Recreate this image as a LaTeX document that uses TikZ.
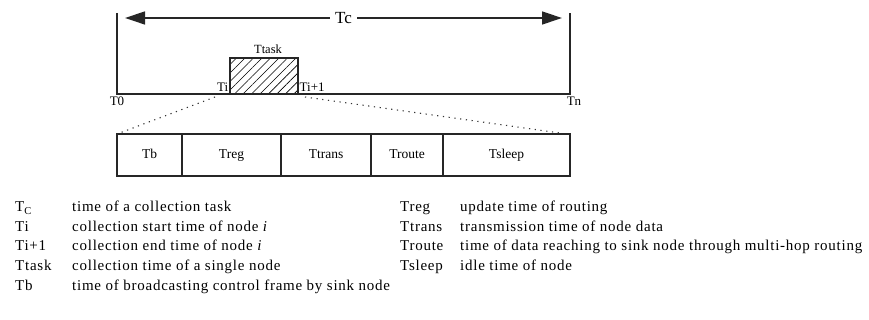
\documentclass[tikz,border=0pt]{standalone}
\usepackage{fontspec}
\setmainfont{Liberation Serif}
\newfontfamily\legendfont[LetterSpace=5]{Liberation Serif}
\usetikzlibrary{arrows.meta,patterns.meta,positioning}

\begin{document}
\begin{tikzpicture}[x=1pt, y=-1pt,
line/.style={draw=black!85, line width=1.3pt},
lbl/.style={inner sep=0pt, font=\fontsize{13}{15}\selectfont},
slot/.style={line, minimum height=42pt, inner sep=0pt, outer sep=0pt, text height=9.5pt, text depth=2.5pt,
  font=\fontsize{13.5}{15}\selectfont},
legend/.style={inner sep=0pt, anchor=base west, font=\legendfont\fontsize{15}{17}\selectfont},
zoomline/.style={black!80, line width=1.1pt, dash pattern=on 1.2pt off 4.6pt}
]
\useasboundingbox (0,0) rectangle (869,320);
%Time line
\coordinate (t0)   at (117,94);
\coordinate (tn)   at (570,94);
\coordinate (t0up) at (117,13);
\coordinate (tnup) at (570,13);
\coordinate (arrL) at (125,18);
\coordinate (arrR) at (562,18);
\draw[line] (t0up) -- (t0) -- (tn) -- (tnup);
\draw[line, {Triangle[length=20pt, width=13pt]}-{Triangle[length=20pt, width=13pt]}] (arrL) -- (arrR)
  node [midway, fill=white, inner sep=5pt, font=\fontsize{17}{19}\selectfont] (tc) {Tc};
%Nodes
\node[line, pattern={Lines[angle=45, distance=6pt, line width=0.6pt]}, minimum width=68pt, minimum height=36pt,
      inner sep=0pt, outer sep=0pt, anchor=south west] (task) at (230,94) {};
\node[lbl, font=\fontsize{12.5}{14}\selectfont] (ttask) [above=4pt of task, xshift=4pt] {Ttask};
\node[lbl, anchor=base east] (ti)  at ([xshift=-1.5pt, yshift=2.5pt]task.south west) {Ti};
\node[lbl, anchor=base west] (ti1) at ([xshift=1.5pt, yshift=2.5pt]task.south east) {Ti+1};
\node[lbl, anchor=north] (lt0) at (117,97) {T0};
\node[lbl, anchor=north] (ltn) at (574,97) {Tn};
%Slots
\node[slot, minimum width=65pt, anchor=north west] (tb) at (117,134) {Tb};
\node[slot, minimum width=99pt]  (treg)   [right=0pt of tb]    {Treg};
\node[slot, minimum width=90pt]  (ttrans) [right=0pt of treg]  {Ttrans};
\node[slot, minimum width=72pt]  (troute) [right=0pt of ttrans] {Troute};
\node[slot, minimum width=127pt] (tsleep) [right=0pt of troute] {Tsleep};
%Zoom lines
\coordinate (zl) at (215,97);
\coordinate (zr) at (305,97);
\coordinate (zbr) at (560,133);
\draw[zoomline] (zl) -- (tb.north west);
\draw[zoomline] (zr) -- (zbr);
%Legend
\node[legend] (stc)     at (15,212)  {T\textsubscript{C}};
\node[legend] (sti)     at (15,231.5)    {Ti};
\node[legend] (sti1)    at (15,251)  {Ti+1};
\node[legend] (sttask)  at (15,270.5)    {Ttask};
\node[legend] (stb)     at (15,290)  {Tb};
\node[legend] (dtc)     at (72,212)  {time of a collection task};
\node[legend] (dti)     at (72,231.5)    {collection start time of node \textit{i}};
\node[legend] (dti1)    at (72,251)  {collection end time of node \textit{i}};
\node[legend] (dttask)  at (72,270.5)    {collection time of a single node};
\node[legend] (dtb)     at (72,290)  {time of broadcasting control frame by sink node};
\node[legend] (streg)   at (400,212) {Treg};
\node[legend] (sttrans) at (400,231.5)   {Ttrans};
\node[legend] (stroute) at (400,251) {Troute};
\node[legend] (stsleep) at (400,270.5)   {Tsleep};
\node[legend] (dtreg)   at (460,212) {update time of routing};
\node[legend] (dttrans) at (460,231.5)   {transmission time of node data};
\node[legend] (dtroute) at (460,251) {time of data reaching to sink node through multi-hop routing};
\node[legend] (dtsleep) at (460,270.5)   {idle time of node};
\end{tikzpicture}
\end{document}
